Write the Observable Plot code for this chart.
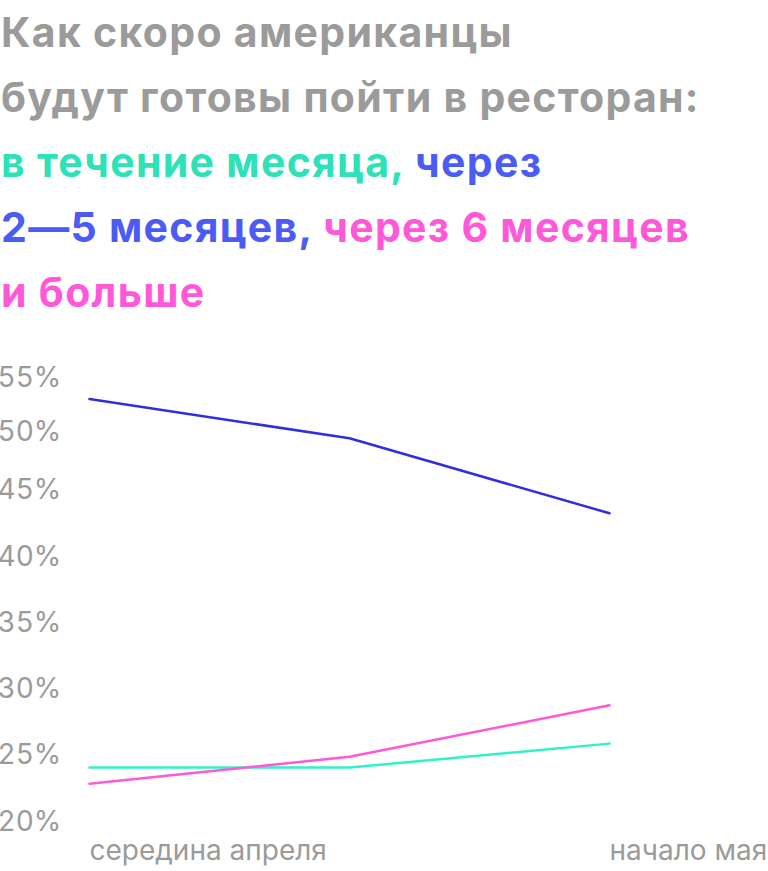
<!DOCTYPE html>
<html>
<head>
<meta charset="utf-8">
<script src="https://cdn.jsdelivr.net/npm/d3@7"></script>
<script src="https://cdn.jsdelivr.net/npm/@observablehq/plot@0.6"></script>
<style>
  html, body { margin: 0; padding: 0; background: #fff; }
  #title {
    font-family: Inter, Roboto, "Noto Sans", sans-serif;
    font-weight: 700;
    font-size: 41px;
    letter-spacing: 1.3px;
    line-height: 65px;
    color: #9b9b9b;
    height: 340px;
    box-sizing: border-box;
    padding-left: 1px;
    white-space: nowrap;
  }
  .g { color: #2ee2b8; }
  .b { color: #4a5cf3; }
  .p { color: #ff58d8; }
</style>
</head>
<body>
<div id="title">Как скоро американцы<br>будут готовы пойти в ресторан:<br><span class="g">в течение месяца,</span> <span class="b">через</span><br><span class="b">2—5 месяцев,</span> <span class="p">через 6 месяцев</span><br><span class="p">и больше</span></div>
<div id="chart"></div>
<script>
const periods = ["середина апреля", "конец апреля", "начало мая"];
const seriesNames = ["в течение месяца", "через 2—5 месяцев", "через 6 месяцев и больше"];
const withinMonth = [24.1, 24.1, 25.9];
const twoToFive = [53.1, 49.5, 43.3];
const sixPlus = [22.9, 24.9, 28.8];
const yTicks = [20, 25, 30, 35, 40, 45, 50, 55];
const xTickLabels = ["середина апреля", "начало мая"];
const colors = ["#2ff3c4", "#2f2fdf", "#ff58d8"];

const seriesValues = [withinMonth, twoToFive, sixPlus];
const data = [];
seriesNames.forEach((s, i) => periods.forEach((p, j) => data.push({series: s, period: p, value: seriesValues[i][j]})));

// the reference spaces its upper ticks more tightly: a piecewise-linear warp of the percent axis
const warp = d3.scaleLinear().domain(yTicks).range([0, 67, 133, 199, 265, 332, 390, 444]);

const chart = Plot.plot({
  width: 768,
  height: 531,
  marginLeft: 0,
  marginRight: 0,
  marginTop: 0,
  marginBottom: 40,
  style: {fontFamily: "Inter, Roboto, 'Noto Sans', sans-serif", fontSize: "28px", color: "#9b9b9b", background: "transparent", overflow: "visible"},
  x: {type: "point", domain: periods, range: [88, 609], padding: 0},
  y: {transform: warp, domain: [0, 444], range: [482, 38]},
  color: {domain: seriesNames, range: colors},
  marks: [
    Plot.axisY({ticks: yTicks.map(warp), tickSize: 0, textAnchor: "start", dx: 6, tickFormat: d => Math.round(warp.invert(d)) + "%", label: null, fontSize: 28}),
    Plot.axisX({ticks: xTickLabels, tickSize: 0, tickPadding: 9, textAnchor: "start", label: null, fontSize: 28}),
    Plot.line(data, {x: "period", y: "value", z: "series", stroke: "series", strokeWidth: 2.5})
  ]
});
document.getElementById("chart").appendChild(chart);
</script>
</body>
</html>
